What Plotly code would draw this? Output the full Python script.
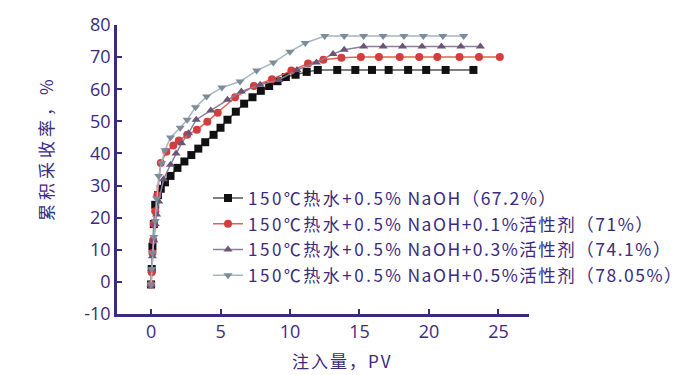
import plotly.graph_objects as go

# ---- data ----
x_naoh = [0, 0.05, 0.1, 0.2, 0.3, 0.5, 0.7, 1.0, 1.4, 1.9, 2.4, 2.9, 3.4, 3.9, 4.5, 5.0, 5.5, 6.1, 6.7, 7.3, 7.9, 8.5, 9.1, 9.7, 10.4, 11.2, 12.0, 13.4, 14.7, 15.9, 17.1, 18.5, 19.8, 21.2, 23.2]
y_naoh = [-0.8, 4, 11, 18, 24, 27, 29, 31, 33, 35.5, 37.5, 39.5, 41.5, 43.5, 45.8, 48, 50.5, 53, 55.5, 57.5, 59.5, 61, 62.5, 63.8, 64.5, 65.4, 66, 66, 66, 66, 66, 66, 66, 66, 66]

x_s01 = [0, 0.05, 0.1, 0.15, 0.2, 0.3, 0.45, 0.7, 1.1, 1.6, 2.0, 2.6, 3.3, 4.05, 4.8, 6.05, 7.4, 8.7, 10.1, 11.3, 12.4, 13.7, 15.1, 16.4, 17.9, 19.3, 20.6, 22.2, 23.6, 25.1]
y_s01 = [-0.8, 3, 9, 13, 18, 22, 27, 37, 40.5, 42.5, 44, 45.8, 47.4, 49.9, 52.7, 57.5, 61, 63.1, 65.8, 68, 69.2, 69.8, 70, 70, 70, 70, 70, 70, 70, 70]

x_s03 = [0, 0.05, 0.1, 0.2, 0.3, 0.4, 0.55, 0.9, 1.4, 1.8, 2.2, 2.7, 3.25, 4.3, 5.5, 6.5, 7.85, 9.2, 10.5, 11.9, 13.1, 13.9, 15.3, 16.7, 18.1, 19.5, 20.9, 22.3, 23.7]
y_s03 = [-0.8, 4, 8, 13, 18, 21, 25, 32, 36.5, 40, 43.2, 46.3, 50.5, 53.4, 56.7, 59.3, 61.4, 62.9, 66, 68.3, 71, 72.3, 73.3, 73.3, 73.3, 73.3, 73.3, 73.3, 73.3]

x_s05 = [0, 0.05, 0.1, 0.2, 0.3, 0.4, 0.55, 0.75, 1.0, 1.4, 2.1, 2.6, 3.2, 4.0, 5.1, 6.4, 7.6, 8.8, 10.0, 11.1, 12.5, 13.9, 15.3, 16.7, 18.2, 19.6, 21.0, 22.5]
y_s05 = [-0.8, 4, 9, 14, 19, 26, 33, 37, 41, 45, 48, 50.5, 54.4, 57.7, 60.5, 62.4, 65.8, 68.3, 71.7, 74.4, 76.6, 76.6, 76.6, 76.6, 76.6, 76.6, 76.6, 76.6]

PREFIX = '<span style="font-size:17px;letter-spacing:2.5px">150℃热水+0.5%</span> '
REST_OPEN = '<span style="letter-spacing:1.5px">'
names = [
    PREFIX + REST_OPEN + "NaOH（67.2%）</span>",
    PREFIX + REST_OPEN + "NaOH+0.1%活性剂（71%）</span>",
    PREFIX + REST_OPEN + "NaOH+0.3%活性剂（74.1%）</span>",
    PREFIX + REST_OPEN + "NaOH+0.5%活性剂（78.05%）</span>",
]
x_ticks = [0, 5, 10, 15, 20, 25]
y_ticks = [-10, 0, 10, 20, 30, 40, 50, 60, 70, 80]
y_ticktext = ["-10", "0", "10", "20", "30", "40", "50", "60", "70", "80"]
x_title = "注入量，PV"
y_title = "累积采收率，%"

INK = "#3b2a7e"
FONT = "Noto Sans CJK SC"

series = [
    (x_naoh, y_naoh, "square", "#111111", "#555555"),
    (x_s01, y_s01, "circle", "#d43d3d", "#e2604e"),
    (x_s03, y_s03, "triangle-up", "#6a5577", "#8e7f98"),
    (x_s05, y_s05, "triangle-down", "#7d8b9b", "#a8b4c0"),
]

fig = go.Figure()
for (xs, ys, sym, mc, lc), nm in zip(series, names):
    fig.add_trace(go.Scatter(
        x=xs, y=ys, name=nm, mode="lines+markers",
        line=dict(color=lc, width=1.5),
        marker=dict(symbol=sym, color=mc, size=8),
    ))

fig.update_layout(
    width=678, height=367,
    margin=dict(l=109, r=157, t=17, b=61, autoexpand=False),
    paper_bgcolor="white", plot_bgcolor="white",
    font=dict(family=FONT, color=INK),
    showlegend=True,
    legend=dict(
        xref="container", yref="container",
        x=0.295, y=0.531, xanchor="left", yanchor="top",
        bgcolor="rgba(0,0,0,0)", font=dict(size=17.5, color=INK, family=FONT),
        itemwidth=30, tracegroupgap=0,
    ),
    xaxis=dict(
        range=[-2.45, 27.2], tickvals=x_ticks, ticks="inside", ticklen=5, tickwidth=2,
        tickcolor=INK, showline=True, linecolor=INK, linewidth=2.5,
        showgrid=False, zeroline=False, automargin=False,
        tickfont=dict(size=18, color=INK, family="Open Sans"),
    ),
    yaxis=dict(
        range=[-10, 80], tickvals=y_ticks, ticktext=y_ticktext,
        ticks="inside", ticklen=5, tickwidth=2,
        tickcolor=INK, showline=True, linecolor=INK, linewidth=2.5,
        showgrid=False, zeroline=False, automargin=False,
        tickfont=dict(size=18, color=INK, family="Open Sans"),
    ),
    annotations=[
        dict(text='<span style="letter-spacing:2px">' + x_title + '</span>',
             xref="paper", yref="paper", x=0.5485, y=-0.1626,
             xanchor="center", yanchor="middle", showarrow=False,
             font=dict(size=17, color=INK, family=FONT)),
        dict(text='<span style="letter-spacing:4px">' + y_title + '</span>',
             xref="paper", yref="paper", x=-0.1748, y=0.574, textangle=-90,
             xanchor="center", yanchor="middle", showarrow=False,
             font=dict(size=17, color=INK, family=FONT)),
    ],
)

fig.write_html("out.html")
